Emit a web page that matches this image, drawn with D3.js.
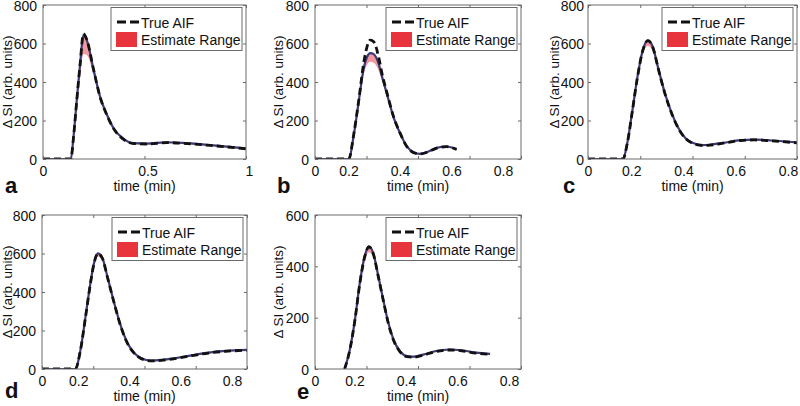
<!DOCTYPE html>
<html><head><meta charset="utf-8">
<script src="https://cdn.jsdelivr.net/npm/d3@7"></script>
<style>
body{margin:0;background:#fff}
svg{display:block}
text{font-family:"Liberation Sans",Arial,Helvetica,sans-serif;fill:#111}
</style>
</head><body>
<svg id="chart" width="800" height="406"></svg>
<script>
// ---------------- DATA ----------------
const panelLetters = ["a", "b", "c", "d", "e"];
const xMax = [1, 0.8, 0.8, 0.8, 0.8];
const yMax = [800, 800, 800, 800, 600];
const xTicks = [[0, 0.5, 1], [0, 0.2, 0.4, 0.6, 0.8], [0, 0.2, 0.4, 0.6, 0.8], [0, 0.2, 0.4, 0.6, 0.8], [0, 0.2, 0.4, 0.6, 0.8]];
const xTickLabels = [["0", "0.5", "1"], ["0", "0.2", "0.4", "0.6", "0.8"], ["0", "0.2", "0.4", "0.6", "0.8"], ["0", "0.2", "0.4", "0.6", "0.8"], ["0", "0.2", "0.4", "0.6", "0.8"]];
const yTicks = [[0, 200, 400, 600, 800], [0, 200, 400, 600, 800], [0, 200, 400, 600, 800], [0, 200, 400, 600, 800], [0, 200, 400, 600]];
const legendLabels = ["True AIF", "Estimate Range"];
const xLabel = "time (min)";
const yLabel = "Δ SI (arb. units)";

const timeA = [0, 0.137, 0.150, 0.166, 0.183, 0.199, 0.216, 0.248, 0.281, 0.315, 0.347, 0.397, 0.446, 0.512, 0.61, 0.71, 0.84, 1.0];
const trueA = [0, 0, 110, 300, 495, 650, 620, 470, 323, 228, 159, 102, 80, 78, 85, 80, 69, 53];
const lowA  = [0, 0, 100, 270, 430, 545, 540, 440, 310, 222, 155, 99, 77, 75, 82, 77, 66, 50];
const highA = [0, 0, 112, 302, 497, 645, 618, 470, 324, 230, 161, 104, 82, 80, 87, 82, 71, 55];

const timeB = [0, 0.131, 0.151, 0.170, 0.189, 0.202, 0.215, 0.228, 0.247, 0.260, 0.280, 0.305, 0.331, 0.357, 0.383, 0.408, 0.441, 0.473, 0.511, 0.550];
const trueB = [0, 0, 133, 306, 497, 583, 618, 609, 531, 445, 341, 220, 133, 64, 33, 26, 38, 57, 64, 50];
const lowB  = [0, 0, 120, 280, 440, 490, 505, 500, 460, 405, 320, 210, 128, 62, 31, 24, 36, 55, 62, 48];
const highB = [0, 0, 128, 300, 470, 530, 550, 545, 495, 430, 335, 218, 132, 65, 34, 27, 39, 58, 65, 51];

const timeC = [0, 0.134, 0.150, 0.170, 0.189, 0.209, 0.229, 0.249, 0.268, 0.295, 0.321, 0.347, 0.374, 0.400, 0.439, 0.466, 0.518, 0.584, 0.637, 0.703, 0.8];
const trueC = [0, 0, 79, 251, 422, 560, 615, 577, 474, 337, 234, 156, 105, 82, 70, 72, 82, 96, 99, 94, 84];
const lowC  = [0, 0, 75, 243, 408, 540, 588, 555, 460, 330, 230, 153, 103, 80, 68, 70, 80, 94, 97, 92, 82];
const highC = [0, 0, 80, 253, 424, 562, 616, 579, 476, 339, 236, 158, 107, 84, 72, 74, 84, 98, 101, 96, 86];

const timeD = [0, 0.130, 0.150, 0.170, 0.189, 0.203, 0.218, 0.236, 0.255, 0.282, 0.308, 0.334, 0.361, 0.387, 0.426, 0.466, 0.518, 0.584, 0.650, 0.716, 0.8];
const trueD = [0, 0, 97, 271, 444, 548, 600, 574, 479, 340, 219, 132, 80, 54, 42, 45, 54, 69, 83, 92, 97];
const lowD  = [0, 0, 94, 265, 436, 536, 585, 562, 470, 335, 216, 130, 78, 52, 40, 43, 52, 67, 81, 90, 95];
const highD = [0, 0, 98, 273, 446, 550, 601, 576, 481, 342, 221, 134, 82, 56, 44, 47, 56, 71, 85, 94, 99];

const timeE = [0.115, 0.135, 0.155, 0.174, 0.193, 0.209, 0.226, 0.246, 0.265, 0.285, 0.305, 0.331, 0.357, 0.383, 0.420, 0.470, 0.520, 0.570, 0.625, 0.68];
const trueE = [0, 73, 190, 333, 437, 476, 450, 359, 268, 177, 112, 66, 48, 46, 54, 68, 74, 71, 62, 57];
const lowE  = [0, 70, 182, 318, 418, 455, 435, 350, 262, 174, 110, 64, 46, 44, 52, 66, 72, 69, 60, 55];
const highE = [0, 74, 191, 335, 440, 478, 452, 361, 270, 179, 114, 68, 50, 48, 56, 70, 76, 73, 64, 59];

const panelTime = [timeA, timeB, timeC, timeD, timeE];
const panelTrue = [trueA, trueB, trueC, trueD, trueE];
const panelLow  = [lowA, lowB, lowC, lowD, lowE];
const panelHigh = [highA, highB, highC, highD, highE];

// ---------------- LAYOUT ----------------
const layout = [
  {x0: 43,  x1: 246, y0: 5,   y1: 159, letterX: 5,   letterY: 193, yLabDX: -36, yGap: 6, xShift: 3},
  {x0: 315, x1: 521, y0: 5,   y1: 159, letterX: 277, letterY: 193, yLabDX: -37, yGap: 6, xShift: -18},
  {x0: 588, x1: 797, y0: 5,   y1: 159, letterX: 563, letterY: 193, yLabDX: -34, yGap: 4, xShift: -9},
  {x0: 42,  x1: 247, y0: 215, y1: 369, letterX: 5,   letterY: 398, yLabDX: -35, yGap: 6, xShift: -15},
  {x0: 315, x1: 521, y0: 215, y1: 369, letterX: 297, letterY: 399, yLabDX: -37, yGap: 6, xShift: -12}
];

const RED = "#e8343c";
const NAVY = "#3a3a76";
const FRAME = "#6a6a6a";

const svg = d3.select("#chart");

panelLetters.forEach((letter, i) => {
  const L = layout[i];
  const rows = panelTime[i].map((t, j) => ({t, v: panelTrue[i][j], lo: panelLow[i][j], hi: panelHigh[i][j]}));
  const x = d3.scaleLinear().domain([0, xMax[i]]).range([L.x0, L.x1]);
  const y = d3.scaleLinear().domain([0, yMax[i]]).range([L.y1, L.y0]);
  const g = svg.append("g");

  const clipId = "clip" + i;
  g.append("clipPath").attr("id", clipId).append("rect")
    .attr("x", L.x0).attr("y", L.y0).attr("width", L.x1 - L.x0).attr("height", L.y1 - L.y0);

  const plot = g.append("g").attr("clip-path", `url(#${clipId})`);

  plot.append("path").datum(rows)
    .attr("d", d3.area().curve(d3.curveMonotoneX).x(d => x(d.t)).y0(d => y(d.lo)).y1(d => y(d.hi)))
    .attr("fill", RED).attr("fill-opacity", 0.5).attr("stroke", "none");

  plot.append("path").datum(rows)
    .attr("d", d3.line().curve(d3.curveMonotoneX).x(d => x(d.t)).y(d => y(d.hi)))
    .attr("fill", "none").attr("stroke", NAVY).attr("stroke-width", 2.2);

  plot.append("path").datum(rows)
    .attr("d", d3.line().curve(d3.curveMonotoneX).x(d => x(d.t)).y(d => y(d.v)))
    .attr("fill", "none").attr("stroke", "#111").attr("stroke-width", 2.8)
    .attr("stroke-dasharray", "7,4");

  const fmt = (d, j) => xTickLabels[i][j];
  const axB = g.append("g").attr("transform", `translate(0,${L.y1})`)
    .call(d3.axisBottom(x).tickValues(xTicks[i]).tickFormat(fmt).tickSize(-3).tickSizeOuter(0));
  g.append("g").attr("transform", `translate(0,${L.y0})`)
    .call(d3.axisTop(x).tickValues(xTicks[i]).tickFormat("").tickSize(-3).tickSizeOuter(0));
  const axL = g.append("g").attr("transform", `translate(${L.x0},0)`)
    .call(d3.axisLeft(y).tickValues(yTicks[i]).tickFormat(d3.format("d")).tickSize(-3).tickSizeOuter(0));
  g.append("g").attr("transform", `translate(${L.x1},0)`)
    .call(d3.axisRight(y).tickValues(yTicks[i]).tickFormat("").tickSize(-3).tickSizeOuter(0));

  g.selectAll(".domain").attr("stroke", "none");
  g.selectAll(".tick line").attr("stroke", FRAME);

  axB.selectAll("text")
    .attr("y", 17).attr("dy", null)
    .attr("dx", (d) => d === 0 ? 0 : L.xShift)
    .style("font-size", "14px").style("fill", "#111");
  axL.selectAll("text")
    .attr("x", -L.yGap).attr("dy", "0.36em")
    .style("font-size", "14px").style("fill", "#111");
  g.selectAll(".tick text").attr("font-family", null);

  g.append("rect").attr("x", L.x0).attr("y", L.y0)
    .attr("width", L.x1 - L.x0).attr("height", L.y1 - L.y0)
    .attr("fill", "none").attr("stroke", FRAME).attr("stroke-width", 1);

  g.append("text").attr("x", (L.x0 + L.x1) / 2).attr("y", L.y1 + 32)
    .attr("text-anchor", "middle").style("font-size", "14px").text(xLabel);
  g.append("text")
    .attr("transform", `translate(${L.x0 + L.yLabDX},${(L.y0 + L.y1) / 2}) rotate(-90)`)
    .attr("text-anchor", "middle").attr("dy", "0.35em").style("font-size", "13.5px").text(yLabel);

  g.append("text").attr("x", L.letterX).attr("y", L.letterY)
    .style("font-size", "22px").style("font-weight", "bold").text(letter);

  const bx = L.x1 - 135, by = L.y0 + 2.5;
  const lg = g.append("g");
  lg.append("rect").attr("x", bx).attr("y", by).attr("width", 131).attr("height", 43)
    .attr("fill", "#fff").attr("stroke", FRAME).attr("stroke-width", 1);
  lg.append("line").attr("x1", bx + 6).attr("x2", bx + 28).attr("y1", by + 14.5).attr("y2", by + 14.5)
    .attr("stroke", "#111").attr("stroke-width", 2.8).attr("stroke-dasharray", "9,4");
  lg.append("text").attr("x", bx + 30).attr("y", by + 20.5).style("font-size", "14px").text(legendLabels[0]);
  lg.append("rect").attr("x", bx + 5).attr("y", by + 24.5).attr("width", 21).attr("height", 15)
    .attr("fill", RED);
  lg.append("text").attr("x", bx + 30).attr("y", by + 37).style("font-size", "14px").text(legendLabels[1]);
});
</script>
</body></html>
